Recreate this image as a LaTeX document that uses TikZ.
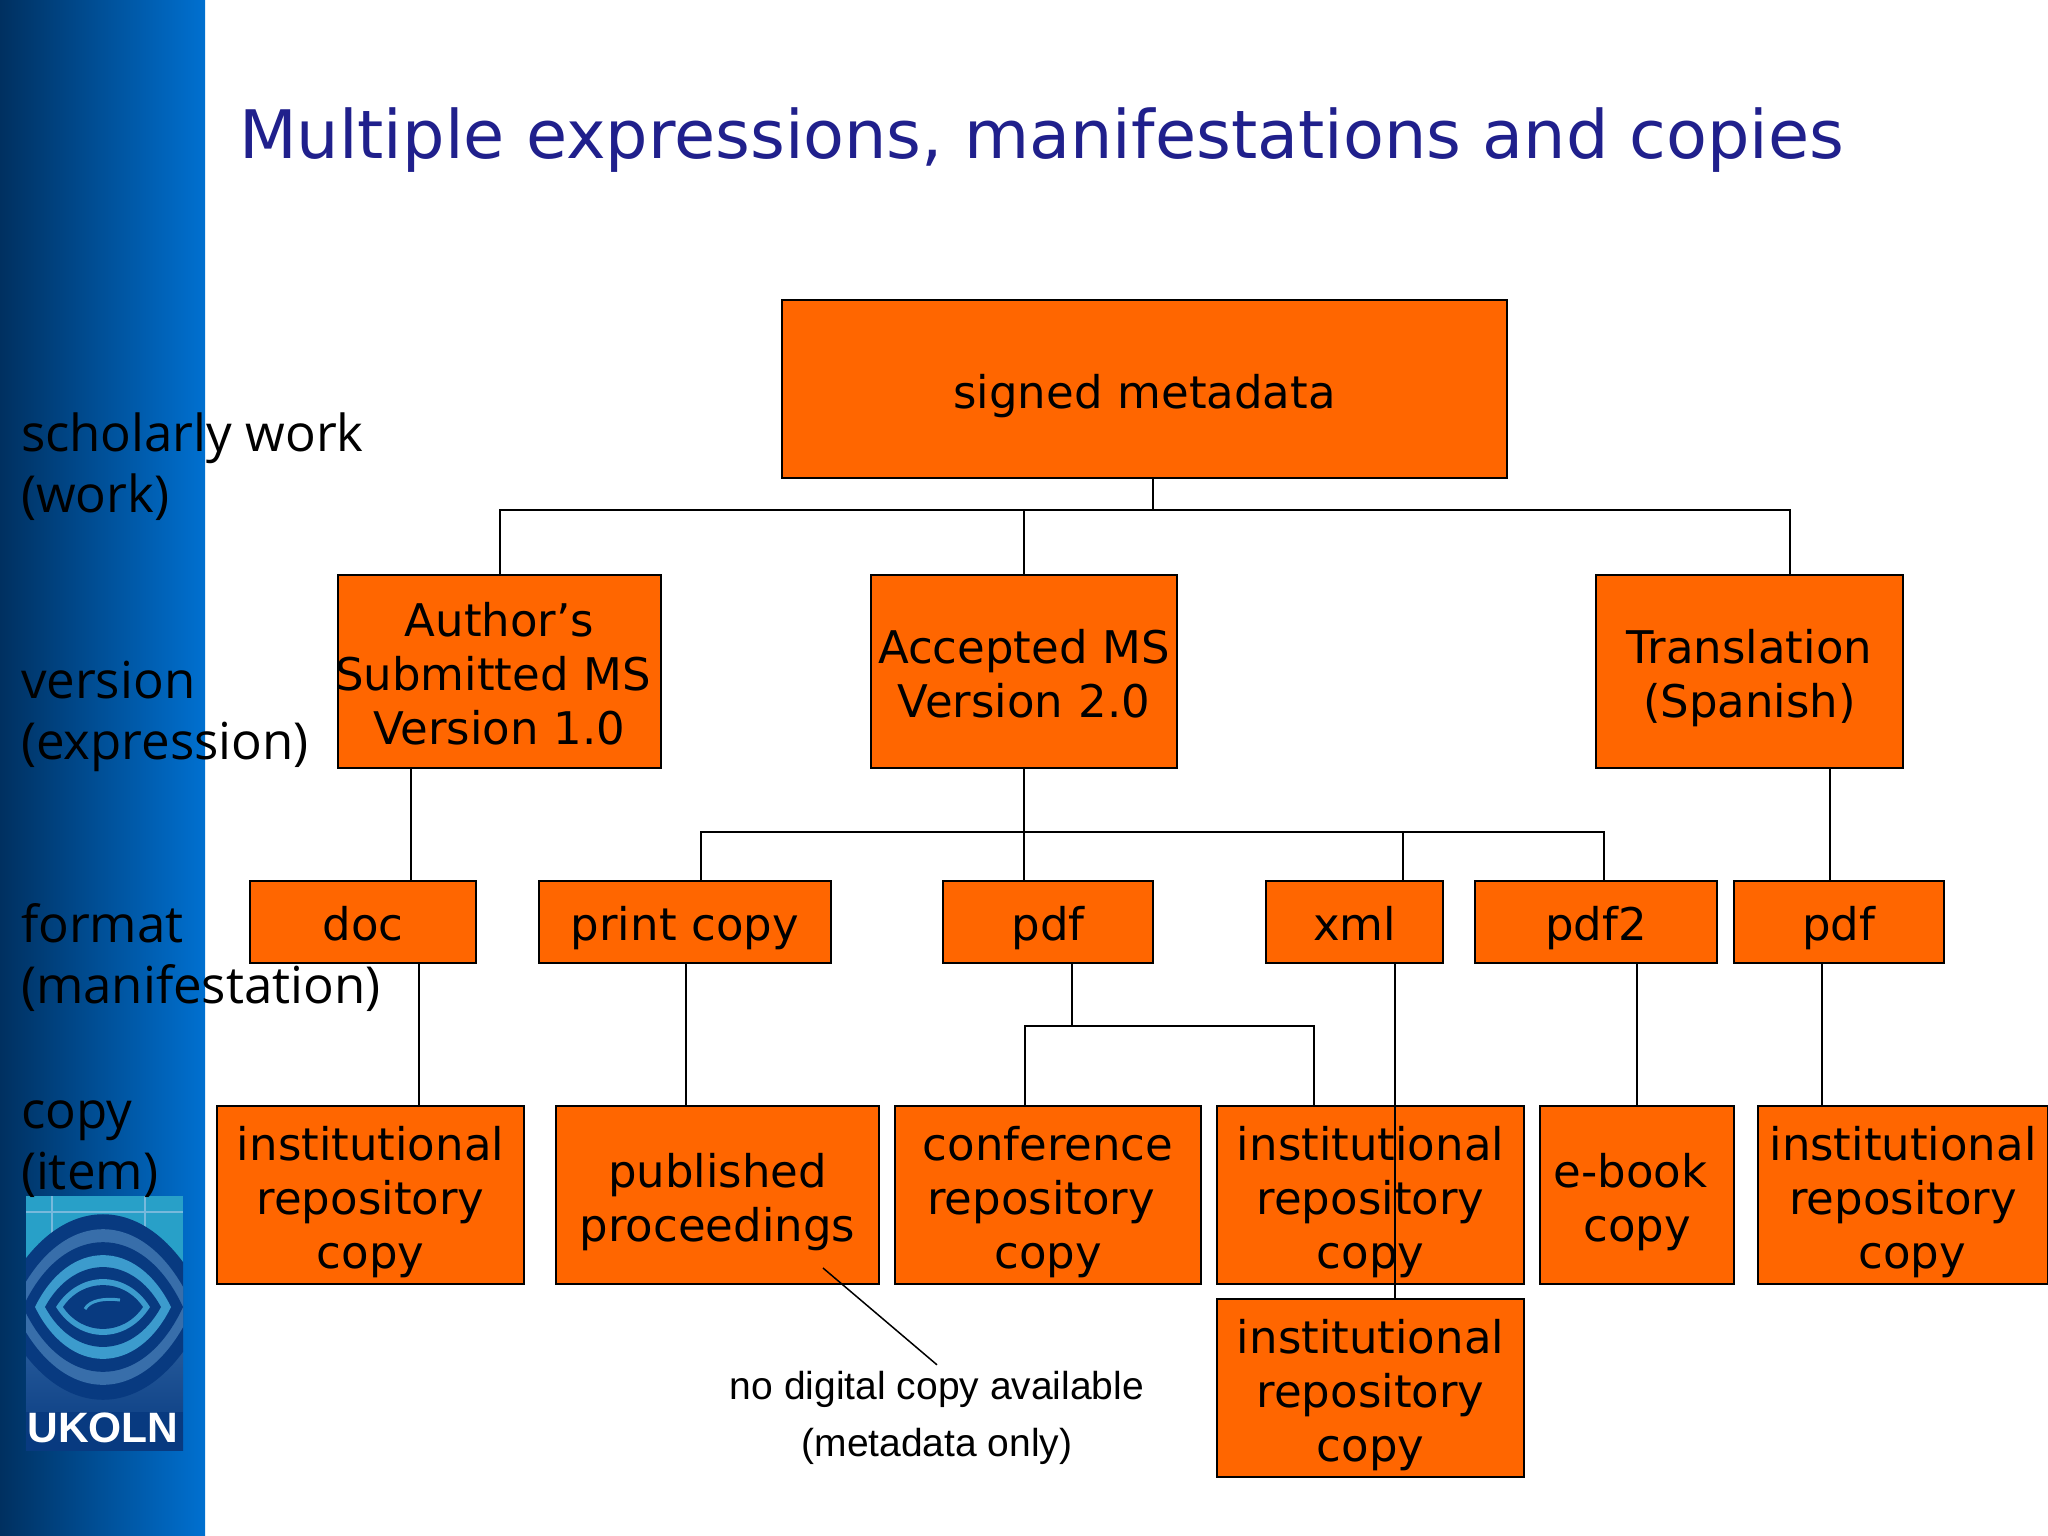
\documentclass[tikz,border=0pt]{standalone}
\usepackage{fontspec}
\setmainfont{DejaVu Sans}
\newfontfamily\sidefont{Open Sans}
\newfontfamily\notefont{Liberation Sans}
\definecolor{boxorange}{RGB}{255,102,0}
\definecolor{titleblue}{RGB}{32,32,140}
\definecolor{bardark}{RGB}{0,48,96}
\definecolor{barlight}{RGB}{0,112,208}
\definecolor{logodark}{RGB}{8,58,128}
\definecolor{logomid}{RGB}{56,110,170}
\definecolor{logolight}{RGB}{60,155,205}
\definecolor{logotop}{RGB}{40,160,200}
\tikzset{
    every node/.style={inner sep=0pt, outer sep=0pt},
    box/.style={draw=black, fill=boxorange, line width=2pt, align=center,
        font=\fontsize{45}{54}\selectfont,
        execute at begin node={\rule{0pt}{50pt}},
        execute at end node={\rule[-12pt]{0pt}{12pt}}},
    tallbox/.style={box, minimum height=178pt},
    headbox/.style={box, minimum height=193pt},
    fmtbox/.style={box, minimum height=82pt},
    sidelabel/.style={anchor=west, align=left, font=\fontsize{51}{61}\selectfont\sidefont},
    link/.style={line width=2pt, line cap=rect},
    eyering/.pic={
        \path[pic actions] (-1, 0) .. controls (-.5, -1.33) and (.5, -1.33) .. (1, 0)
            .. controls (.5, 1.33) and (-.5, 1.33) .. cycle;
    },
}
\begin{document}
\begin{tikzpicture}[x=1pt, y=-1pt]
        \useasboundingbox (0, 0) rectangle (2048, 1536);
        \shade[left color=bardark, right color=barlight] (0, 0) rectangle (205, 1536); % Side bar
        \node[anchor=base west, text=titleblue, font=\fontsize{66.9}{80}\selectfont]
            (title) at (239, 159) {Multiple expressions, manifestations and copies};
        % Logo
        \begin{scope}
            \clip (26, 1196) rectangle (183, 1450);
            \fill[logotop] (26, 1196) rectangle (183, 1300);
            \draw[logolight!70!white, line width=1.5pt] (26, 1212) -- (183, 1212);
            \draw[logolight!70!white, line width=1.5pt] (52, 1196) -- (52, 1240);
            \draw[logolight!70!white, line width=1.5pt] (145, 1196) -- (145, 1240);
            \shade[top color=logomid, bottom color=logodark] (26, 1280) rectangle (183, 1450);
            \foreach \w/\h/\c in {105/93/logodark, 90/78/logomid, 80/65/logodark,
                68/52/logolight, 58/40/logodark, 47/28/logolight, 40/22/logodark}{
                \pic[fill=\c, xscale=\w, yscale=\h] at (103, 1307) {eyering};
            }
            \draw[logolight, line width=3pt] (85, 1309) .. controls (90, 1300) and (105, 1298) .. (120, 1300);
            \fill[logodark] (26, 1412) rectangle (183, 1450);
        \end{scope}
        \node[text=white, font=\fontsize{42.5}{44}\selectfont\notefont\bfseries] (logotext) at (103, 1428) {UKOLN};
        % Side labels
        \node[sidelabel] (worklabel) at (21, 467) {scholarly work\\(work)};
        \node[sidelabel] (versionlabel) at (21, 716) {version\\(expression)};
        \node[sidelabel] (formatlabel) at (21, 958) {format\\(manifestation)};
        \node[sidelabel] (copylabel) at (21, 1149) {copy\\(item)};
        % Boxes
        \node[box, text width=725pt, minimum height=178pt] (root) at (1144.5, 389) {signed metadata};
        \node[headbox, text width=323pt] (author) at (499.5, 671.5)
            {Author’s\\\hspace*{-13pt}Submitted MS\\Version 1.0};
        \node[headbox, text width=306pt] (accepted) at (1024, 671.5) {Accepted MS\\Version 2.0};
        \node[headbox, text width=307pt] (translation) at (1749.5, 671.5) {Translation\\(Spanish)};
        \node[fmtbox, text width=226pt] (doc) at (363, 921.5) {doc};
        \node[fmtbox, text width=292pt] (print) at (685, 921.5) {print copy};
        \node[fmtbox, text width=210pt] (pdfa) at (1048, 921.5) {pdf};
        \node[fmtbox, text width=177pt] (xml) at (1354.5, 921.5) {xml};
        \node[fmtbox, text width=242pt] (pdfb) at (1596, 921.5) {pdf2};
        \node[fmtbox, text width=210pt] (pdfc) at (1838.5, 921.5) {pdf};
        \node[tallbox, text width=307pt] (instb) at (370.5, 1195) {institutional\\repository\\copy};
        \node[tallbox, text width=323pt] (proceedings) at (717.5, 1195) {published\\proceedings};
        \node[tallbox, text width=306pt] (conference) at (1048, 1195)
            {conference\\\hspace*{-14pt}repository\\copy};
        \node[tallbox, text width=307pt] (instc) at (1370.5, 1195) {institutional\\repository\\copy};
        \node[tallbox, text width=194pt] (ebook) at (1637, 1195) {\hspace*{-13pt}e-book\\copy};
        \node[tallbox, text width=290pt] (instd) at (1903, 1195)
            {institutional\\repository\\\hspace*{18pt}copy};
        \node[tallbox, text width=307pt] (inste) at (1370.5, 1388) {institutional\\repository\\copy};
        \node[align=center, font=\fontsize{39}{57}\selectfont\notefont] (note) at (937, 1417.5)
            {no digital copy available\\(metadata only)};
        % Bus lines
        \coordinate (busa) at (1153, 510);
        \coordinate (busb) at (1024, 832);
        \coordinate (busc) at (1072, 1026);
        \draw[link] (500, 510) -- (1790, 510);
        \draw[link] (701, 832) -- (1604, 832);
        \draw[link] (1025, 1026) -- (1314, 1026);
        \draw[link] (root.south -| busa) -- (busa);
        \draw[link] (accepted.south) -- (pdfa.north -| accepted.south);
        \draw[link] (pdfa.south -| busc) -- (busc);
        % Drops from a bus or a box to the box below
        \foreach \x/\b in {500/author, 1024/accepted, 1790/translation}{
            \coordinate (drop) at (\x, 510);
            \draw[link] (drop) -- (drop |- \b.north);
        }
        \foreach \x/\b in {701/print, 1403/xml, 1604/pdfb}{
            \coordinate (drop) at (\x, 832);
            \draw[link] (drop) -- (drop |- \b.north);
        }
        \foreach \x/\b in {1025/conference, 1314/instc}{
            \coordinate (drop) at (\x, 1026);
            \draw[link] (drop) -- (drop |- \b.north);
        }
        \foreach \x/\a/\b in {411/author/doc, 1830/translation/pdfc, 419/doc/instb,
            686/print/proceedings, 1395/xml/inste, 1637/pdfb/ebook, 1822/pdfc/instd}{
            \coordinate (drop) at (\x, 0);
            \draw[link] (drop |- \a.south) -- (drop |- \b.north);
        }
        \coordinate (notestart) at (823, 1268);
        \draw[line width=1.5pt] (notestart) -- ([yshift=6pt]note.north);
    \end{tikzpicture}
\end{document}
